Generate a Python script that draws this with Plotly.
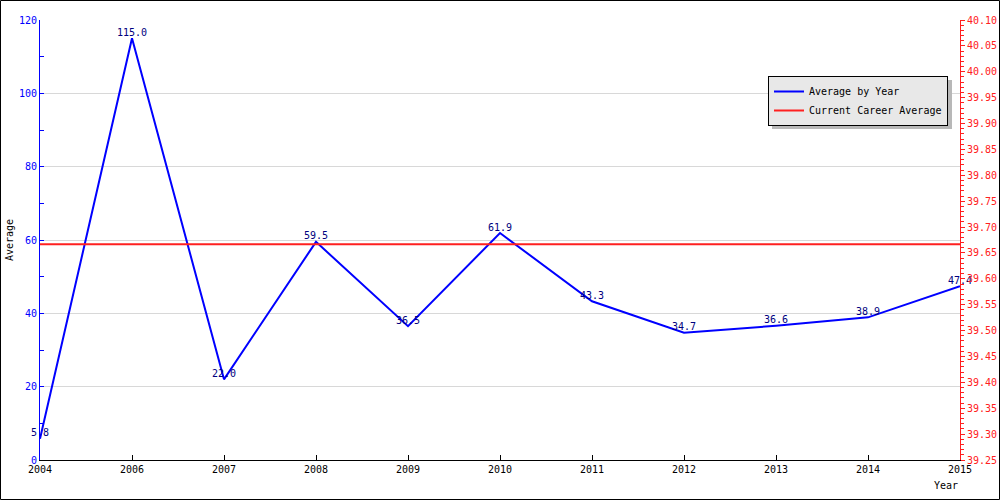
import plotly.graph_objects as go

years = ["2004", "2006", "2007", "2008", "2009", "2010", "2011", "2012", "2013", "2014", "2015"]
avg_by_year = [5.8, 115.0, 22.0, 59.5, 36.5, 61.9, 43.3, 34.7, 36.6, 38.9, 47.4]
career_avg = 39.667
career_series = [career_avg] * len(years)
labels = [f"{v:.1f}" for v in avg_by_year]

FONT = "DejaVu Sans Mono"
FS = 10
W, H = 1000, 500
L, R, T, B = 40, 40, 20, 40
PW, PH = W - L - R, H - T - B

def px(x):
    return (x - L) / PW

def py(y):
    return (H - B - y) / PH

fig = go.Figure()
fig.add_trace(go.Scatter(
    x=years, y=avg_by_year, mode="lines+text", name="Average by Year",
    line=dict(color="#0000ff", width=2),
    text=labels, textposition="top center", cliponaxis=False,
    textfont=dict(family=FONT, size=FS, color="#000080"),
))
fig.add_trace(go.Scatter(
    x=years, y=career_series, mode="lines", name="Current Career Average",
    line=dict(color="#ff2020", width=2), yaxis="y2",
))

# legend shadow
fig.add_shape(type="rect", xref="paper", yref="paper",
              x0=px(772), x1=px(952), y0=py(129), y1=py(80),
              fillcolor="#b8b8b8", line=dict(width=0), layer="above")
# outer border
fig.add_shape(type="rect", xref="paper", yref="paper",
              x0=px(0.5), x1=px(999.5), y0=py(499.5), y1=py(0.5),
              line=dict(color="black", width=1), layer="above")

fig.update_layout(
    width=W, height=H,
    margin=dict(l=L, r=R, t=T, b=B, autoexpand=False),
    paper_bgcolor="white", plot_bgcolor="white",
    font=dict(family=FONT, size=FS, color="black"),
    showlegend=True,
    legend=dict(x=px(948), y=py(76), xanchor="right", yanchor="top",
                bgcolor="#e8e8e8", bordercolor="black", borderwidth=1,
                font=dict(family=FONT, size=FS, color="black"),
                itemwidth=30, tracegroupgap=0),
    xaxis=dict(type="category", range=[0, len(years) - 1],
               showline=True, linecolor="black", linewidth=1,
               ticks="inside", ticklen=5, tickcolor="black",
               showgrid=False, zeroline=False,
               tickfont=dict(family=FONT, size=FS, color="black")),
    yaxis=dict(range=[0, 120], dtick=20, tick0=0,
               showline=True, linecolor="#0000ff", linewidth=1,
               ticks="inside", ticklen=4, tickcolor="#0000ff",
               minor=dict(dtick=10, ticks="inside", ticklen=4, tickcolor="#0000ff", showgrid=False),
               showgrid=True, gridcolor="#d8d8d8", gridwidth=1, zeroline=False,
               tickfont=dict(family=FONT, size=FS, color="#0000ff")),
    yaxis2=dict(range=[39.25, 40.10], dtick=0.05, tick0=39.25, tickformat=".2f",
                overlaying="y", side="right",
                showline=True, linecolor="#ff2020", linewidth=1,
                ticks="outside", ticklen=4, tickcolor="#ff2020",
                minor=dict(dtick=0.01, ticks="outside", ticklen=3, tickcolor="#ff2020"),
                showgrid=False, zeroline=False,
                tickfont=dict(family=FONT, size=FS, color="#ff2020")),
    annotations=[
        dict(text="Average", xref="paper", yref="paper", x=px(9), y=py(240),
             textangle=-90, showarrow=False, xanchor="center", yanchor="middle",
             font=dict(family=FONT, size=FS, color="black")),
        dict(text="Year", xref="paper", yref="paper", x=px(946), y=py(485),
             showarrow=False, xanchor="center", yanchor="middle",
             font=dict(family=FONT, size=FS, color="black")),
    ],
)

fig.write_html("out.html")
